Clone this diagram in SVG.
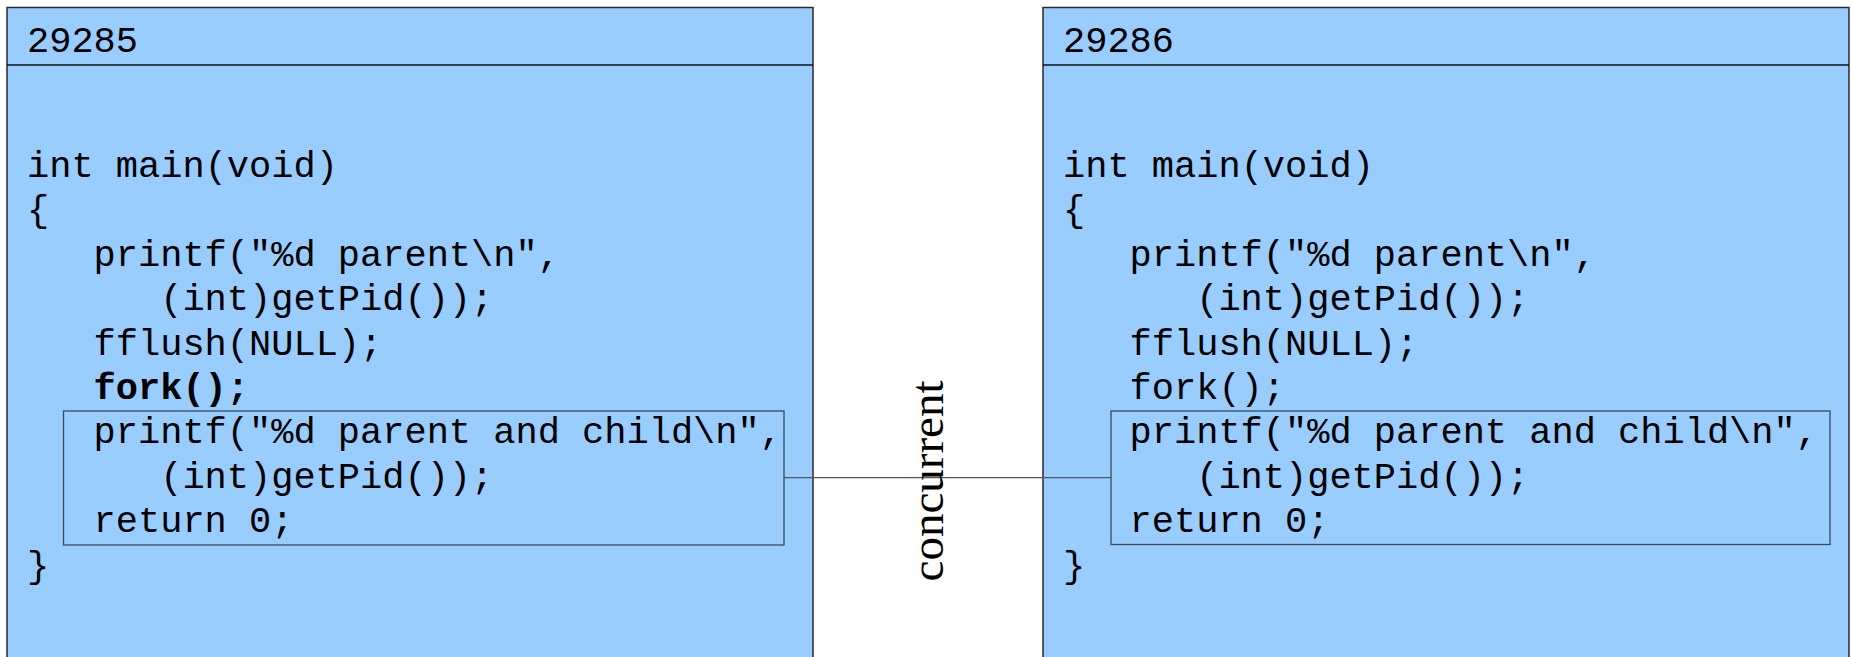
<svg xmlns="http://www.w3.org/2000/svg" width="1853" height="657" viewBox="0 0 1853 657">
<style>
.proc{fill:#99ccff;stroke:#2a2a2a;stroke-width:1.5}
.hdr{stroke:#111;stroke-width:1.5}
.inner{fill:none;stroke:#3a4a5a;stroke-width:1.3}
.code{font-family:"Liberation Mono","Courier New",monospace;font-size:37px;fill:#000}
.b{font-weight:bold}
.conn{stroke:#555;stroke-width:1.3;fill:none}
.lbl{font-family:"Liberation Serif","Times New Roman",serif;font-size:47px;fill:#000}
</style>
<rect width="1853" height="657" fill="#ffffff"/>
<g id="proc29285">
<rect class="proc" x="7" y="7.5" width="806" height="700"/>
<line class="hdr" x1="7" y1="65" x2="813" y2="65"/>
<text class="code" x="27" y="52">29285</text>
<text class="code" x="27" y="177">int main(void)</text>
<text class="code" x="27" y="221.4">{</text>
<text class="code" x="93.6" y="265.8">printf("%d parent\n",</text>
<text class="code" x="160.2" y="310.2">(int)getPid());</text>
<text class="code" x="93.6" y="354.6">fflush(NULL);</text>
<text class="code b" x="93.6" y="399">fork();</text>
<rect class="inner" x="63.5" y="411" width="720.5" height="134"/>
<text class="code" x="93.6" y="443.4">printf("%d parent and child\n",</text>
<text class="code" x="160.2" y="487.8">(int)getPid());</text>
<text class="code" x="93.6" y="532.2">return 0;</text>
<text class="code" x="27" y="576.6">}</text>
</g>
<g id="proc29286">
<rect class="proc" x="1043" y="7.5" width="806" height="700"/>
<line class="hdr" x1="1043" y1="65" x2="1849" y2="65"/>
<text class="code" x="1063" y="52">29286</text>
<text class="code" x="1063" y="177">int main(void)</text>
<text class="code" x="1063" y="221.4">{</text>
<text class="code" x="1129.6" y="265.8">printf("%d parent\n",</text>
<text class="code" x="1196.2" y="310.2">(int)getPid());</text>
<text class="code" x="1129.6" y="354.6">fflush(NULL);</text>
<text class="code" x="1129.6" y="399">fork();</text>
<rect class="inner" x="1111" y="411" width="719" height="133.5"/>
<text class="code" x="1129.6" y="443.4">printf("%d parent and child\n",</text>
<text class="code" x="1196.2" y="487.8">(int)getPid());</text>
<text class="code" x="1129.6" y="532.2">return 0;</text>
<text class="code" x="1063" y="576.6">}</text>
</g>
<g id="connectors">
<line class="conn" x1="784" y1="477.7" x2="1111" y2="477.7"/>
</g>
<g id="label-concurrent">
<text class="lbl" text-anchor="middle" transform="translate(943,481) rotate(-90)">concurrent</text>
</g>
</svg>
